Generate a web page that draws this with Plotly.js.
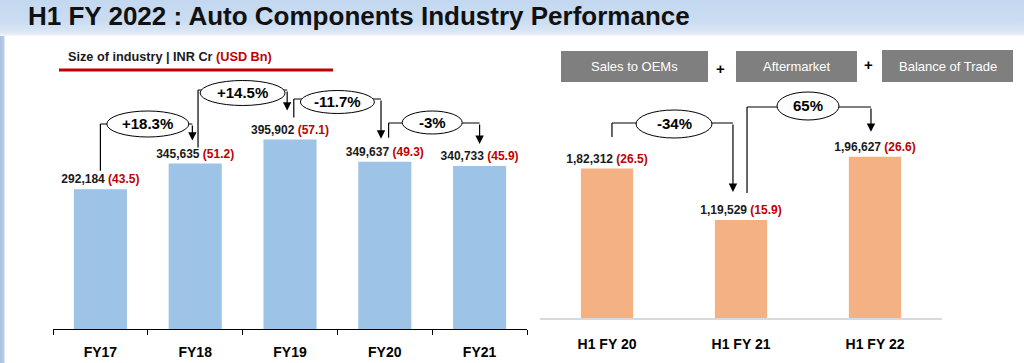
<!DOCTYPE html>
<html>
<head>
<meta charset="utf-8">
<script src="https://cdn.plot.ly/plotly-3.0.1.min.js"></script>
<style>
  html, body { margin: 0; padding: 0; background: #ffffff; }
  #chart {
    width: 1024px; height: 363px;
    background:
      linear-gradient(to bottom, #c3d8ef 0px, #cadcf1 20px, #d9e6f5 31px, #e9f0f9 35px, rgba(255,255,255,0) 36px) top left / 100% 36px no-repeat,
      linear-gradient(to right, #a9c1df 0px, #b8cde6 4px, rgba(255,255,255,0) 5px) left 36px / 6px 100% no-repeat,
      #ffffff;
  }
</style>
</head>
<body>
<div id="chart"></div>
<script>
// ---------------- data ----------------
const categoriesL = ['FY17', 'FY18', 'FY19', 'FY20', 'FY21'];
const sizeInrCr   = [292184, 345635, 395902, 349637, 340733];
const sizeUsdBn   = [43.5, 51.2, 57.1, 49.3, 45.9];
const changeL     = ['+18.3%', '+14.5%', '-11.7%', '-3%'];

const categoriesR = ['H1 FY 20', 'H1 FY 21', 'H1 FY 22'];
const halfInrCr   = [182312, 119529, 196627];
const halfUsdBn   = [26.5, 15.9, 26.6];
const changeR     = ['-34%', '65%'];

const componentLabels = ['Sales to OEMs', 'Aftermarket', 'Balance of Trade'];
const chartTitle = 'H1 FY 2022 : Auto Components Industry Performance';

// ---------------- layout helpers ----------------
const W = 1024, H = 363;
const PX = x => x / W;
const PY = y => 1 - y / H;
const FONT = 'Liberation Sans, Arial, sans-serif';
const RED = '#c00000';

function westernFmt(v) { return v.toLocaleString('en-US'); }
function indianFmt(v) {
  const s = String(Math.round(v));
  if (s.length <= 3) return s;
  const last3 = s.slice(-3);
  let rest = s.slice(0, -3);
  const parts = [];
  while (rest.length > 2) { parts.unshift(rest.slice(-2)); rest = rest.slice(0, -2); }
  if (rest.length) parts.unshift(rest);
  return parts.join(',') + ',' + last3;
}
const labelL = sizeInrCr.map((v, i) => westernFmt(v) + ' <span style="color:' + RED + '">(' + sizeUsdBn[i].toFixed(1) + ')</span>');
const labelR = halfInrCr.map((v, i) => indianFmt(v) + ' <span style="color:' + RED + '">(' + halfUsdBn[i].toFixed(1) + ')</span>');

// panel geometry (pixels)
const L = { x0: 53, x1: 527, base: 329, top: 30, scale: 2090 };
const R = { x0: 540, x1: 942, base: 318, top: 30, scale: 1219.7 };

// bracket geometry (pixels): start offset above bar, level, tip offset above next bar, ellipse
const bracketsL = [
  { sOff: 18.5, sDx: 0.00, level: 124, tOff: 23, tDx: -0.03, ecy: 124,   ew: 82, eh: 26 },
  { sOff: 16,   sDx: 0.03, level: 90,  tOff: 29, tDx: -0.03, ecy: 93,    ew: 85, eh: 25 },
  { sOff: 22,   sDx: 0.04, level: 99,  tOff: 23, tDx: -0.04, ecy: 102,   ew: 74, eh: 23 },
  { sOff: 24,   sDx: 0.04, level: 123, tOff: 22, tDx: 0.00,  ecy: 122.5, ew: 60, eh: 23 }
];
const bracketsR = [
  { sOff: 31.5, sDx: 0.037, level: 123, tOff: 28, tDx: -0.06, ecy: 124, ew: 76, eh: 28 },
  { sOff: 27,   sDx: 0.045, level: 107, tOff: 25, tDx: -0.03, ecy: 106, ew: 62, eh: 28 }
];

const shapes = [];
const annotations = [];

function addBrackets(values, changes, brackets, P, xr, yr) {
  const pxToVal = ypx => (P.base - ypx) * P.scale;
  brackets.forEach((b, i) => {
    const ys = values[i] + b.sOff * P.scale;
    const yl = pxToVal(b.level);
    const yt = values[i + 1] + b.tOff * P.scale;
    const xs = i + b.sDx, xt = i + 1 + b.tDx;
    const lineStyle = { color: '#000000', width: 1.2 };
    shapes.push({ type: 'line', xref: xr, yref: yr, x0: xs, x1: xs, y0: ys, y1: yl, line: lineStyle, layer: 'above' });
    shapes.push({ type: 'line', xref: xr, yref: yr, x0: xs, x1: xt, y0: yl, y1: yl, line: lineStyle, layer: 'above' });
    const yc = pxToVal(b.ecy);
    shapes.push({
      type: 'circle', xref: xr, yref: yr, layer: 'above',
      xsizemode: 'pixel', ysizemode: 'pixel',
      xanchor: i + 0.5, yanchor: yc,
      x0: -b.ew / 2, x1: b.ew / 2, y0: -b.eh / 2, y1: b.eh / 2,
      fillcolor: '#ffffff', line: { color: '#000000', width: 1 }
    });
    annotations.push({
      xref: xr, yref: yr, x: i + 0.5, y: yc, text: changes[i], showarrow: false,
      xanchor: 'center', yanchor: 'middle',
      font: { family: FONT, size: 15, color: '#000000', weight: 'bold' }
    });
    annotations.push({
      xref: xr, yref: yr, x: xt, y: yt, axref: xr, ayref: yr, ax: xt, ay: yl,
      text: '', showarrow: true, arrowhead: 2, arrowsize: 1.4, arrowwidth: 1.2,
      arrowcolor: '#000000', standoff: 0, startstandoff: 0
    });
  });
}
addBrackets(sizeInrCr, changeL, bracketsL, L, 'x', 'y');
addBrackets(halfInrCr, changeR, bracketsR, R, 'x2', 'y2');

// subtitle + red underline
annotations.push({
  xref: 'paper', yref: 'paper', x: PX(66), y: PY(57), xanchor: 'left', yanchor: 'middle',
  text: 'Size of industry | INR Cr <span style="color:' + RED + '">(USD Bn)</span>',
  showarrow: false, font: { family: FONT, size: 12.7, color: '#1a1a1a', weight: 'bold' }
});
shapes.push({ type: 'line', xref: 'paper', yref: 'paper', x0: PX(59), x1: PX(333), y0: PY(70), y1: PY(70),
  line: { color: RED, width: 3 } });

// component boxes
const boxes = [[561, 708, 51, 82], [736, 857, 51, 82], [882, 1013, 50, 82]];
boxes.forEach((bx, i) => {
  shapes.push({ type: 'rect', xref: 'paper', yref: 'paper', x0: PX(bx[0]), x1: PX(bx[1]), y0: PY(bx[3]), y1: PY(bx[2]),
    fillcolor: '#7f7f7f', line: { width: 0 } });
  annotations.push({ xref: 'paper', yref: 'paper', x: PX((bx[0] + bx[1]) / 2), y: PY((bx[2] + bx[3]) / 2 + 0.5),
    text: componentLabels[i], showarrow: false, xanchor: 'center', yanchor: 'middle',
    font: { family: FONT, size: 13, color: '#ffffff' } });
});
[[720, 68], [868, 64]].forEach(p => {
  annotations.push({ xref: 'paper', yref: 'paper', x: PX(p[0]), y: PY(p[1]), text: '+', showarrow: false,
    xanchor: 'center', yanchor: 'middle',
    font: { family: FONT, size: 15, color: '#000000', weight: 'bold' } });
});

const traces = [
  {
    type: 'bar', x: categoriesL, y: sizeInrCr, xaxis: 'x', yaxis: 'y', width: 0.56,
    marker: { color: '#9dc3e6', line: { width: 0 } },
    text: labelL, textposition: 'outside', constraintext: 'none', cliponaxis: false,
    outsidetextfont: { family: FONT, size: 12, color: '#1a1a1a', weight: 'bold' },
    hoverinfo: 'skip'
  },
  {
    type: 'bar', x: categoriesR, y: halfInrCr, xaxis: 'x2', yaxis: 'y2', width: 0.39,
    marker: { color: '#f4b183', line: { width: 0 } },
    text: labelR, textposition: 'outside', constraintext: 'none', cliponaxis: false,
    outsidetextfont: { family: FONT, size: 12, color: '#1a1a1a', weight: 'bold' },
    hoverinfo: 'skip'
  }
];

const tickFont = { family: FONT, size: 14, color: '#000000', weight: 'bold' };
const layout = {
  width: W, height: H,
  margin: { l: 0, r: 0, t: 0, b: 0 },
  paper_bgcolor: 'rgba(0,0,0,0)', plot_bgcolor: 'rgba(0,0,0,0)',
  showlegend: false,
  title: {
    text: chartTitle, x: PX(28), xanchor: 'left', xref: 'paper',
    y: PY(16), yref: 'container', yanchor: 'middle',
    font: { family: FONT, size: 26, color: '#111111', weight: 'bold' }
  },
  xaxis: {
    domain: [PX(L.x0), PX(L.x1)], anchor: 'y', type: 'category',
    showline: true, linecolor: '#000000', linewidth: 1,
    ticks: 'outside', tickson: 'boundaries', ticklen: 5, tickcolor: '#000000', tickwidth: 1,
    tickfont: tickFont, ticklabelstandoff: 10, showgrid: false, zeroline: false, fixedrange: true
  },
  yaxis: {
    domain: [PY(L.base), PY(L.top)], anchor: 'x', range: [0, (L.base - L.top) * L.scale],
    visible: false, showgrid: false, zeroline: false, fixedrange: true
  },
  xaxis2: {
    domain: [PX(R.x0), PX(R.x1)], anchor: 'y2', type: 'category',
    showline: true, linecolor: '#d9d9d9', linewidth: 1.5,
    ticks: '', tickfont: tickFont, ticklabelstandoff: 13, showgrid: false, zeroline: false, fixedrange: true
  },
  yaxis2: {
    domain: [PY(R.base), PY(R.top)], anchor: 'x2', range: [0, (R.base - R.top) * R.scale],
    visible: false, showgrid: false, zeroline: false, fixedrange: true
  },
  shapes: shapes,
  annotations: annotations
};

Plotly.newPlot('chart', traces, layout, { displayModeBar: false, staticPlot: true });
</script>
</body>
</html>
